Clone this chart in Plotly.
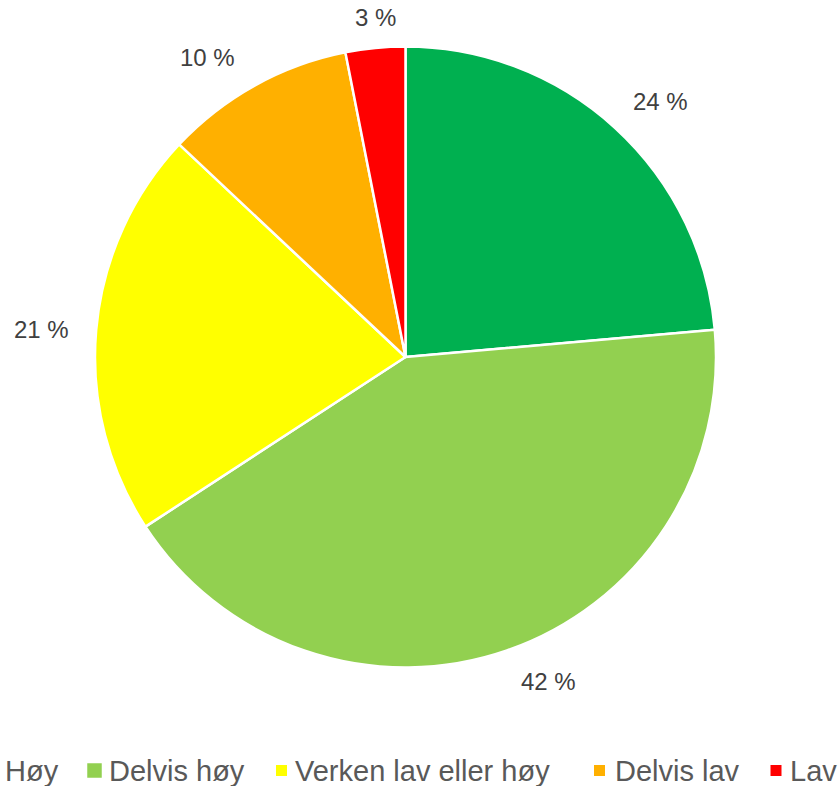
import math
import plotly.graph_objects as go

# ---- data ----
categories = ["Høy", "Delvis høy", "Verken lav eller høy", "Delvis lav", "Lav"]
values = [23.6, 42.2, 21.2, 9.9, 3.1]
colors = ["#00B050", "#92D050", "#FFFF00", "#FFB000", "#FF0000"]
label_texts = [f"{round(v)} %" for v in values]

# ---- layout constants (pixels) ----
W, H = 840, 786
CX, CY, R = 405.5, 357.0, 310.5
LABEL_FS = 24
LEGEND_FS = 29
FONT = "Liberation Sans, Arial, sans-serif"

# label placement (style): angular nudge from slice middle and distance beyond rim
label_nudge_deg = [2.4, -4.7, -0.8, -4.4, 0.6]
label_offset = [50.5, 44.5, 55, 48.5, 30.5]

legend_marker_cx = [-10, 94.5, 281.5, 599.5, 776]
legend_marker_size = [14.5, 14.5, 11, 11, 11]
legend_text_x = [3, 107, 293, 613, 788]
legend_y = 770.5

fig = go.Figure()
fig.add_trace(go.Pie(
    labels=categories,
    values=values,
    sort=False,
    direction="clockwise",
    rotation=0,
    marker=dict(colors=colors, line=dict(color="white", width=2.5)),
    textinfo="none",
    hoverinfo="label+percent",
    showlegend=False,
    domain=dict(x=[(CX - R) / W, (CX + R) / W],
                y=[1 - (CY + R) / H, 1 - (CY - R) / H]),
))

annotations = []
total = sum(values)
cum = 0.0
for v, t, nd, off in zip(values, label_texts, label_nudge_deg, label_offset):
    mid = (cum + v / 2) / total * 2 * math.pi + math.radians(nd)
    cum += v
    s, c = math.sin(mid), math.cos(mid)
    d = R + off
    px, py = CX + d * s, CY - d * c
    annotations.append(dict(
        x=px / W, y=1 - py / H, xref="paper", yref="paper",
        text=t, showarrow=False, xanchor="center", yanchor="middle",
        font=dict(family=FONT, size=LABEL_FS, color="#404040"),
    ))

shapes = []
for cat, col, mcx, ms, tx in zip(categories, colors, legend_marker_cx,
                                 legend_marker_size, legend_text_x):
    shapes.append(dict(
        type="rect", xref="paper", yref="paper",
        x0=(mcx - ms / 2) / W, x1=(mcx + ms / 2) / W,
        y0=1 - (legend_y + ms / 2) / H, y1=1 - (legend_y - ms / 2) / H,
        fillcolor=col, line=dict(width=0),
    ))
    annotations.append(dict(
        x=tx / W, y=1 - legend_y / H, xref="paper", yref="paper",
        text=cat, showarrow=False, xanchor="left", yanchor="middle",
        font=dict(family=FONT, size=LEGEND_FS, color="#595959"),
    ))

fig.update_layout(
    width=W, height=H,
    margin=dict(l=0, r=0, t=0, b=0),
    paper_bgcolor="white", plot_bgcolor="white",
    annotations=annotations,
    shapes=shapes,
    showlegend=False,
)

fig.write_html(
    "out.html",
    config={"displayModeBar": False},
    post_script="document.body.style.margin='0';document.body.style.overflow='hidden';",
)
